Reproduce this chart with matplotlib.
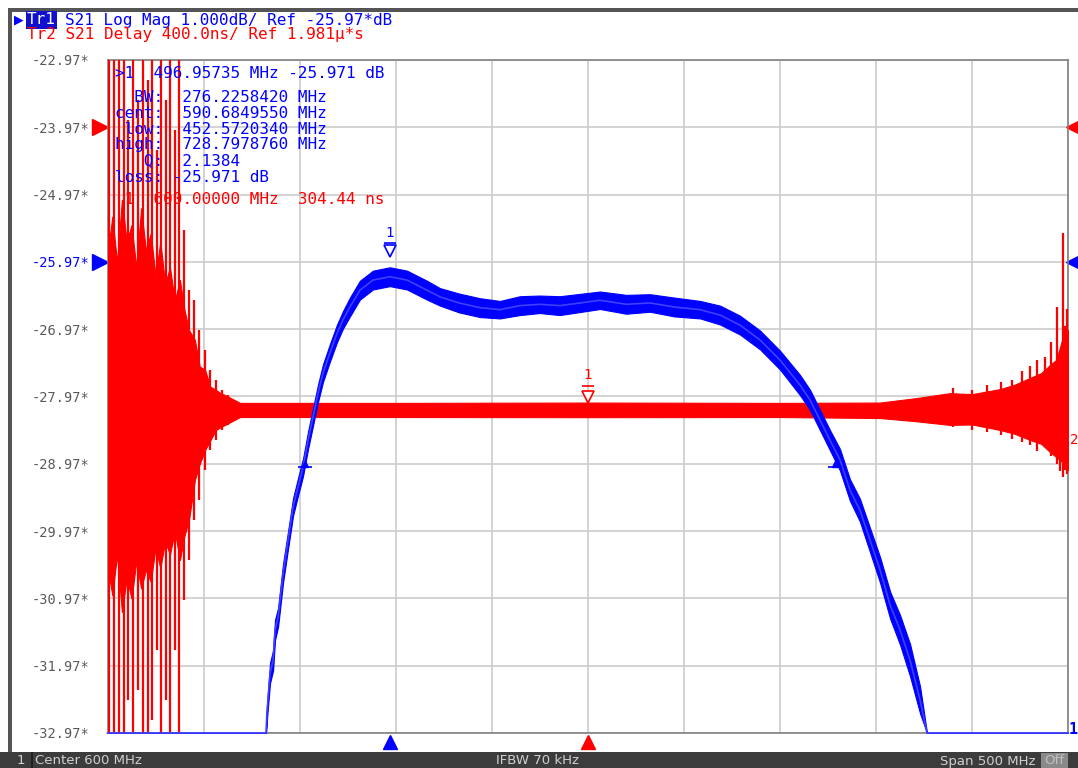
import numpy as np
import matplotlib.pyplot as plt
from matplotlib.patches import Rectangle
import matplotlib.transforms as mtrans

# ---- values ----
f_start, f_stop = 350.0, 850.0          # MHz (center 600, span 500)
db_ref, db_div = -25.97, 1.0            # Tr1 log mag
ns_ref, ns_div = 1981.0, 400.0          # Tr2 delay
y_labels = ['-22.97*', '-23.97*', '-24.97*', '-25.97*', '-26.97*', '-27.97*',
            '-28.97*', '-29.97*', '-30.97*', '-31.97*', '-32.97*']

# Tr1: S21 magnitude (centre of the noisy trace) and noise half-width
blue_f = [350.0, 432.5, 433.0, 434.6, 436.2, 437.2, 438.8, 441.4, 444.0, 446.6, 449.2,
          451.8, 454.4, 457.0, 459.6, 462.2, 465.8, 469.5, 472.6, 476.2, 481.4,
          488.2, 497.0, 505.9, 516.3, 523.1, 533.0, 543.9, 554.3, 564.7, 575.0, 585.5,
          606.4, 620.0, 632.4, 645.0, 658.5, 668.9, 679.3, 689.7, 700.1, 710.5, 715.7,
          720.9, 726.1, 731.3, 736.5, 741.7, 746.9, 752.2, 757.4, 762.6, 767.8, 773.0,
          776.6, 850.0]
blue_db = [-32.97, -32.97, -32.67, -32.08, -31.89, -31.44, -31.25, -30.59, -30.10, -29.61, -29.31,
           -29.02, -28.62, -28.27, -27.92, -27.62, -27.32, -27.03, -26.83, -26.64, -26.39,
           -26.24, -26.19, -26.24, -26.39, -26.49, -26.58, -26.65, -26.68, -26.62, -26.60, -26.62,
           -26.54, -26.60, -26.58, -26.64, -26.68, -26.76, -26.91, -27.13, -27.43, -27.80, -28.02,
           -28.32, -28.62, -28.91, -29.36, -29.66, -30.10, -30.55, -31.07, -31.44, -31.89, -32.48,
           -32.97, -32.97]
blue_hw = [0.0, 0.0, 0.10, 0.15, 0.15, 0.15, 0.14, 0.14, 0.13, 0.13, 0.13,
           0.13, 0.13, 0.13, 0.13, 0.13, 0.13, 0.13, 0.13, 0.14, 0.14,
           0.14, 0.14, 0.14, 0.14, 0.13, 0.14, 0.14, 0.13, 0.14, 0.13, 0.14,
           0.13, 0.14, 0.13, 0.14, 0.13, 0.14, 0.14, 0.14, 0.14, 0.15, 0.15,
           0.15, 0.15, 0.16, 0.16, 0.17, 0.18, 0.19, 0.20, 0.22, 0.24, 0.20,
           0.0, 0.0]

# Tr2: group delay envelope (ns)
red_f = [350.3, 352.5, 355.0, 357.5, 360.0, 362.5, 365.0, 367.5, 370.0, 372.5, 375.0,
         377.5, 380.0, 382.5, 385.0, 387.7, 390.0, 392.4, 395.5, 398.0, 400.8, 403.5,
         406.5, 409.0, 411.2, 419.0, 500.0, 600.0, 700.0, 752.1, 770.0, 788.6, 800.0,
         814.6, 822.0, 830.2, 836.0, 840.6, 844.0, 846.9, 850.0]
red_hi = [1250, 1450, 1180, 1550, 1300, 1400, 1150, 1500, 1250, 1350, 1100,
          1300, 1050, 1150, 950, 1074, 900, 776, 717, 560, 539, 440,
          420, 400, 390, 343, 343, 345, 343, 345, 370, 401, 395,
          425, 450, 491, 520, 568, 600, 717, 776]
red_lo = [-650, -800, -560, -900, -700, -820, -600, -760, -650, -720, -520,
          -640, -480, -560, -420, -591, -450, -353, -115, -20, 63, 120,
          182, 200, 212, 259, 259, 258, 259, 253, 235, 212, 215,
          182, 160, 123, 100, 51, 20, -8, -56]
# ringing spikes: frequency, top, bottom (ns)
spike_f = [351.0, 353.4, 356.0, 358.6, 360.7, 363.3, 365.9, 368.5, 371.1, 373.2, 375.8,
           377.9, 380.5, 382.6, 385.1, 387.2, 389.8, 392.4, 395.0, 397.6, 400.8,
           403.4, 406.5, 409.6, 412.7, 416.0,
           790.0, 800.0, 808.0, 815.0, 821.0, 826.0, 830.0, 834.0, 838.0, 841.2,
           844.3, 846.0, 847.4, 848.5, 849.3]
spike_hi = [2500, 2500, 2500, 2500, 2025, 2500, 2144, 2500, 2262, 2500, 1846,
            2500, 2144, 2500, 1965, 2500, 1371, 1014, 955, 776, 658,
            539, 479, 420, 390, 360,
            430, 420, 450, 470, 480, 530, 560, 600, 616, 705,
            913, 650, 1353, 800, 900]
spike_lo = [-1700, -1700, -1700, -1700, -1423, -1700, -1363, -1700, -1700, -1542, -1126,
            -1700, -1423, -1700, -1126, -1700, -828, -591, -353, -234, -56,
            63, 123, 182, 212, 240,
            200, 180, 170, 150, 130, 110, 90, 60, 100, 30,
            -20, -60, -97, -56, -80]

m1_f, m1_db = 496.95735, -25.971
m2_f, m2_ns = 600.0, 304.44
bw_low, bw_high, bw_lvl = 452.5720340, 728.7978760, -28.97

W, H = 1078, 768
BLUE, RED = '#0000ff', '#ff0000'
MONO = 'DejaVu Sans Mono'


def fx(x):
    return x / W


def fy(y):
    return 1 - y / H


fig = plt.figure(figsize=(W / 100, H / 100), dpi=100)
fig.patch.set_facecolor('white')

L, R, T, B = 107.5, 1068.0, 60.0, 733.0
ax = fig.add_axes([fx(L), fy(B), fx(R - L), (B - T) / H])
ax.set_xlim(f_start, f_stop)
ax.set_ylim(db_ref - 7 * db_div, db_ref + 3 * db_div)
ax.set_xticks(np.arange(f_start, f_stop + 1, 50))
yt = db_ref + db_div * np.arange(3, -8, -1)
ax.set_yticks(yt)
ax.set_yticklabels(y_labels, family=MONO, fontsize=9.8, color='#5a5a5a')
ax.get_yticklabels()[3].set_color(BLUE)
ax.set_xticklabels([])
ax.tick_params(length=0, pad=13)
ax.grid(True, color='#cccccc', lw=1.2)
ax.set_axisbelow(True)
for s in ax.spines.values():
    s.set_color('#808080')
    s.set_linewidth(1.2)

# delay trace shares the grid
ax2 = ax.twinx()
ax2.set_ylim(ns_ref - 9 * ns_div, ns_ref + ns_div)
ax2.set_yticks([])
for s in ax2.spines.values():
    s.set_visible(False)
ax2.fill_between(red_f, red_lo, red_hi, color=RED, lw=0.8, ec=RED, zorder=2)
ax2.vlines(spike_f, spike_lo, spike_hi, color=RED, lw=1.6, zorder=2)

# magnitude trace on top
ax3 = ax.twinx()
ax3.set_ylim(ax.get_ylim())
ax3.set_yticks([])
for s in ax3.spines.values():
    s.set_visible(False)
bd = np.array(blue_db)
bh = np.array(blue_hw)
ax3.fill_between(blue_f, bd - bh, bd + bh, color=BLUE, lw=0.8, ec=BLUE, zorder=3)
ax3.plot(blue_f, blue_db, color='#4040ff', lw=1.2, clip_on=False, zorder=3)

# markers on traces
ax3.plot([m1_f], [m1_db + 0.16], marker='v', ms=8, mfc='white', mec=BLUE, mew=1.2, zorder=5)
ax3.plot([m1_f], [m1_db + 0.28], marker='_', ms=9, mec=BLUE, mew=1.2, zorder=5)
ax3.text(m1_f, m1_db + 0.32, '1', color=BLUE, family=MONO, fontsize=10,
         ha='center', va='bottom', zorder=5)
ax2.plot([m2_f], [m2_ns + 75], marker='v', ms=8, mfc='white', mec=RED, mew=1.2, zorder=5)
ax2.plot([m2_f], [m2_ns + 140], marker='_', ms=9, mec=RED, mew=1.2, zorder=5)
ax2.text(m2_f, m2_ns + 160, '1', color=RED, family=MONO, fontsize=10,
         ha='center', va='bottom', zorder=5)
for f in (bw_low, bw_high):
    ax3.plot([f], [bw_lvl], marker='^', ms=5, color=BLUE, zorder=5)
    ax3.plot([f], [bw_lvl - 0.05], marker='_', ms=10, mec=BLUE, mew=1.2, zorder=5)

# reference position arrows and bottom stimulus markers
tr = mtrans.blended_transform_factory(ax.transAxes, ax.transData)
ax.plot([-0.008], [db_ref + 2], marker='>', ms=11, color=RED, transform=tr, clip_on=False)
ax.plot([-0.008], [db_ref], marker='>', ms=11, color=BLUE, transform=tr, clip_on=False)
ax.plot([1.0065], [db_ref + 2], marker='<', ms=11, color=RED, transform=tr, clip_on=False)
ax.plot([1.0065], [db_ref], marker='<', ms=11, color=BLUE, transform=tr, clip_on=False)
trb = mtrans.blended_transform_factory(ax.transData, ax.transAxes)
ax.plot([m1_f], [-0.013], marker='^', ms=10, color=BLUE, transform=trb, clip_on=False)
ax.plot([m2_f], [-0.013], marker='^', ms=10, color=RED, transform=trb, clip_on=False)
fig.text(fx(1070), fy(440), '2', color=RED, family=MONO, fontsize=10, va='center')
fig.text(fx(1069), fy(729), '1', color=BLUE, family=MONO, fontsize=11, va='center',
         weight='bold')

# header lines
fig.text(fx(14), fy(20), '\u25b6', color=BLUE, fontsize=9, va='center')
fig.text(fx(27), fy(20), 'Tr1', color='white', family=MONO, fontsize=11.5, va='center',
         bbox=dict(boxstyle='square,pad=0.08', fc='#1010d0', ec='none'))
fig.text(fx(65), fy(20), 'S21 Log Mag 1.000dB/ Ref -25.97*dB', color=BLUE,
         family=MONO, fontsize=11.5, va='center')
fig.text(fx(27), fy(35), 'Tr2 S21 Delay 400.0ns/ Ref 1.981\u00b5*s', color=RED,
         family=MONO, fontsize=11.5, va='center')

# marker readout
readout = ['>1  496.95735 MHz -25.971 dB', '', '  BW:  276.2258420 MHz',
           'cent:  590.6849550 MHz', ' low:  452.5720340 MHz', 'high:  728.7978760 MHz',
           '   Q:  2.1384', 'loss: -25.971 dB']
ys = [73, 85, 97, 113, 129, 145, 161, 177]
for s, y in zip(readout, ys):
    fig.text(fx(115), fy(y), s, color=BLUE, family=MONO, fontsize=11.5, va='center', zorder=10)
fig.text(fx(115), fy(200), ' 1  600.00000 MHz  304.44 ns', color=RED, family=MONO,
         fontsize=11.5, va='center', zorder=10)

# window frame and status bar
fig.patches.append(Rectangle((fx(8), fy(12)), 1 - fx(8), 4 / H, transform=fig.transFigure,
                             fc='#555555', ec='none'))
fig.patches.append(Rectangle((fx(8), fy(752)), 4 / W, (752 - 12) / H, transform=fig.transFigure,
                             fc='#555555', ec='none'))
fig.patches.append(Rectangle((0, 0), 1, 16 / H, transform=fig.transFigure,
                             fc='#3c3c3c', ec='none'))
fig.patches.append(Rectangle((fx(31), 0), 1.5 / W, 16 / H, transform=fig.transFigure,
                             fc='#202020', ec='none'))
fig.patches.append(Rectangle((fx(1041), 0), 27 / W, 15 / H, transform=fig.transFigure,
                             fc='#8a8a8a', ec='none'))
bar_y = fy(761)
fig.text(fx(17), bar_y, '1', color='#d0d0d0', fontsize=9.5, va='center')
fig.text(fx(35), bar_y, 'Center 600 MHz', color='#d0d0d0', fontsize=9.5, va='center')
fig.text(fx(538), bar_y, 'IFBW 70 kHz', color='#d0d0d0', fontsize=9.5, va='center', ha='center')
fig.text(fx(1036), bar_y, 'Span 500 MHz', color='#d0d0d0', fontsize=9.5, va='center', ha='right')
fig.text(fx(1054.5), bar_y, 'Off', color='#c0c0c0', fontsize=9.5, va='center', ha='center')

plt.savefig('out.png', dpi=100)
